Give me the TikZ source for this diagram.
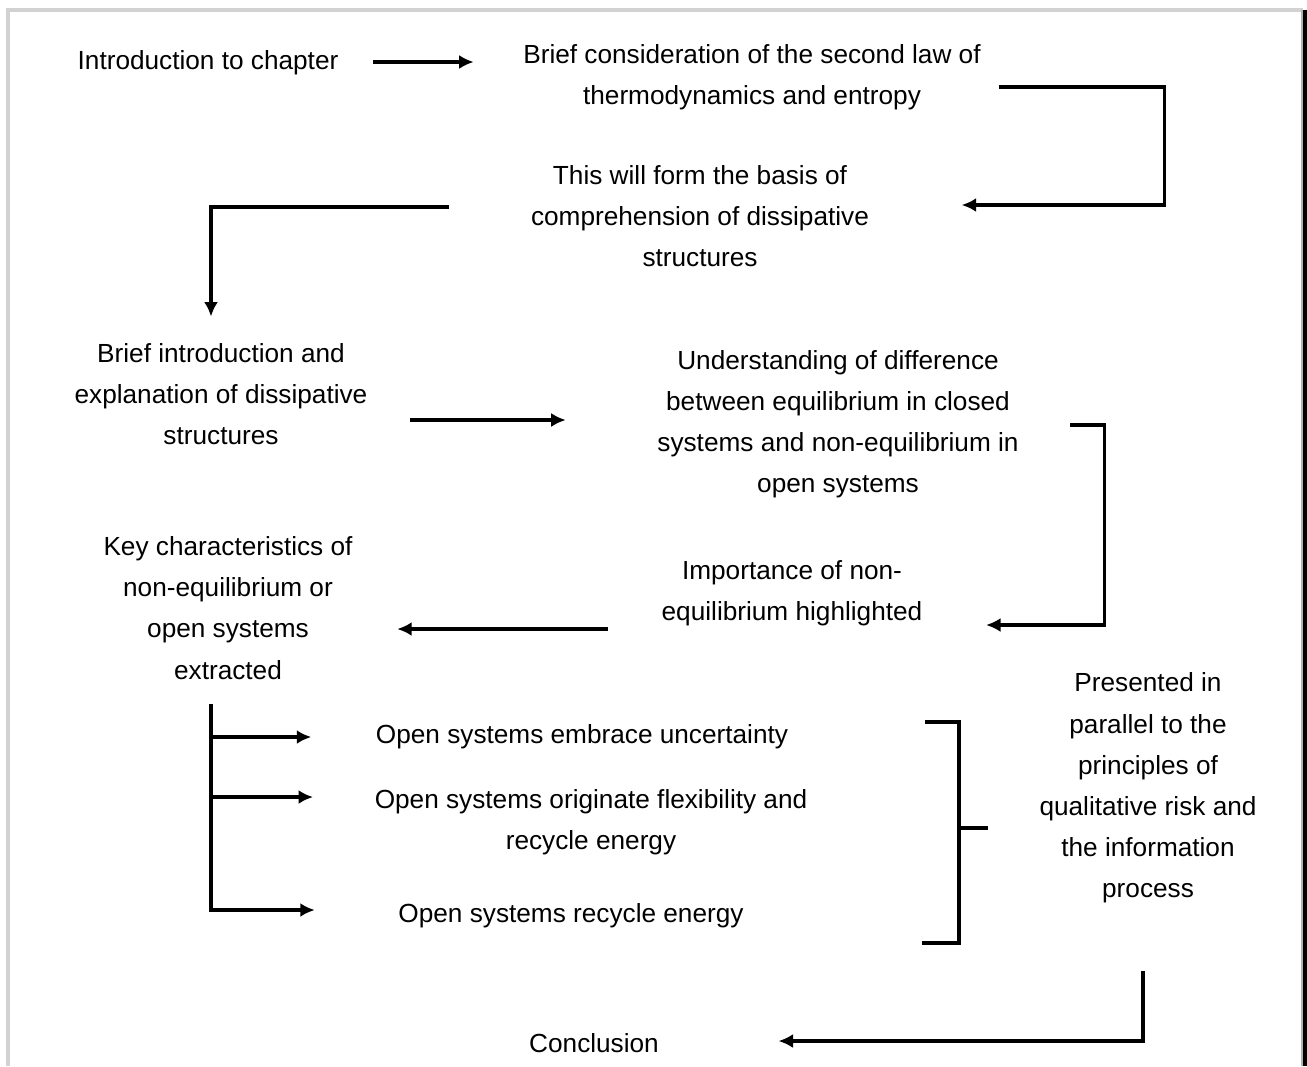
\documentclass[tikz,border=0pt]{standalone}
\usepackage{fontspec}
\setmainfont{Liberation Sans}
\usepackage{tikz}
\usetikzlibrary{arrows.meta,positioning,calc}

\begin{document}
\begin{tikzpicture}[
  x=0.01cm, y=-0.01cm,
  txt/.style={inner sep=0pt, align=center, font=\fontsize{7.45}{11.7}\selectfont},
  line/.style={line width=0.95pt, draw=black},
  arrow/.style={-{Latex[length=1.45mm, width=1.4mm]}, line width=0.95pt, draw=black}
]
\useasboundingbox (0,0) rectangle (1307,1066);
% frame
\draw[gray!35, line width=1.2pt] (8,1066) -- (8,10) -- (1303,10);
\draw[gray!60, line width=0.5pt] (1302,10) -- (1302,1066);
\draw[black, line width=1pt] (1305,10) -- (1305,1066);

\node[txt] (intro) at (208,63) {Introduction to chapter};
\node[txt] (secondlaw) at (752,77) {Brief consideration of the second law of\\thermodynamics and entropy};
\node[txt] (basis) at (700,216) {This will form the basis of\\comprehension of dissipative\\structures};
\node[txt] (dissip) at (221,394) {Brief introduction and\\explanation of dissipative\\structures};
\node[txt] (equil) at (838,424) {Understanding of difference\\between equilibrium in closed\\systems and non-equilibrium in\\open systems};
\node[txt] (importance) at (792,593) {Importance of non-\\equilibrium highlighted};
\node[txt] (keychar) at (228,608) {Key characteristics of\\non-equilibrium or\\open systems\\extracted};
\node[txt] (uncert) at (582,737) {Open systems embrace uncertainty};
\node[txt] (flex) at (591,822) {Open systems originate flexibility and\\recycle energy};
\node[txt] (recycle) at (571,916) {Open systems recycle energy};
\node[txt] (parallel) at (1148,788) {Presented in\\parallel to the\\principles of\\qualitative risk and\\the information\\process};
\node[txt] (concl) at (594,1043) {Conclusion};

\draw[arrow] ($(intro.east)+(34,-1)$) -- ($(secondlaw.west |- intro.east)+(-49,-1)$);
\draw[arrow] ($(secondlaw.east)+(18,10)$) -- ++(165,0) |- ($(basis.east)+(92,-11)$);
\draw[arrow] ($(basis.west)+(-81,-9)$) -| ($(dissip.north)+(-10,-26)$);
\draw[arrow] ($(dissip.east)+(42,26)$) -- ($(equil.west)+(-91,-4)$);
\draw[arrow] ($(equil.east)+(51,1)$) -- ++(34,0) |- ($(importance.east)+(63,32)$);
\draw[arrow] ($(importance.west)+(-53,36)$) -- ($(keychar.east)+(44,21)$);

% branches to the three characteristics
\coordinate (trunk) at ($(keychar.south)+(-17,24)$);
\draw[arrow] (trunk) |- ($(recycle.west)+(-83,-6)$);
\draw[arrow] (trunk |- uncert.west) -- ($(uncert.west)+(-64,0)$);
\draw[arrow] ($(trunk |- flex.west)+(0,-25)$) -- ($(flex.west)+(-61,-25)$);

% bracket
\coordinate (brtop) at (925,722);
\coordinate (brbot) at (922,943);
\coordinate (brmid) at (959,828);
\draw[line] (brtop) -| (brmid) |- (brbot);
\draw[line] (brmid) -- ($(parallel.west |- brmid)+(-51,0)$);

\draw[arrow] ($(parallel.south)+(-5,67)$) |- ($(concl.east)+(119,-2)$);
\end{tikzpicture}
\end{document}
